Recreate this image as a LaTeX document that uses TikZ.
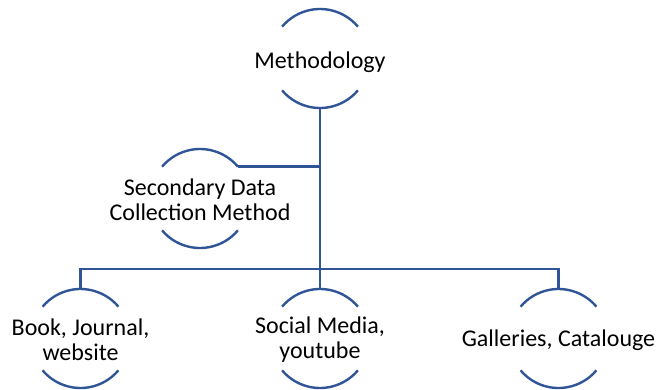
\documentclass[tikz,border=0pt]{standalone}
\usepackage{fontspec}
\setmainfont{Carlito}
\definecolor{lineblue}{RGB}{47,85,151}
\begin{document}
\begin{tikzpicture}[x=1pt,y=-1pt,
  ring/.style={circle,minimum size=99pt,inner sep=0pt,outer sep=0pt},
  lbl/.style={align=center,inner sep=0pt,font=\fontsize{24}{25}\selectfont,text=black},
  arcline/.style={draw=lineblue,line width=2.4pt},
  conn/.style={draw=lineblue,line width=2.6pt}]
\useasboundingbox (0,0) rectangle (664,389);
% circles
\node[ring] (m) at (320,58.5) {};
\node[ring] (s) at (200,198.5) {};
\node[ring] (b1) at (80.5,338.5) {};
\node[ring] (b2) at (320,338.5) {};
\node[ring] (b3) at (558.5,338.5) {};
% arcs
\foreach \n in {m,s,b1,b2,b3}{
  \draw[arcline] (\n.40) arc[start angle=40,end angle=140,radius=49.5pt];
  \draw[arcline] (\n.220) arc[start angle=220,end angle=320,radius=49.5pt];
}
% labels
\node[lbl] (tm) at ([yshift=-4pt]m.center) {Methodology};
\node[lbl] (ts) at ([yshift=-1pt]s.center) {Secondary Data\\Collection Method};
\node[lbl] (t1) at ([yshift=-1pt]b1.center) {Book, Journal,\\website};
\node[lbl] (t2) at ([yshift=-1pt]b2.center) {Social Media,\\youtube};
\node[lbl] (t3) at ([yshift=-1.5pt]b3.center) {Galleries, Catalouge};
% connectors
\coordinate (bar) at (320,269);
\draw[conn] (m.south) -- (bar);
\draw[conn] (s.40) -- (s.40 -| m.south);
\draw[conn] (bar) -| (b1.north);
\draw[conn] (bar) -| (b3.north);
\draw[conn] (bar) -- (b2.north);
\end{tikzpicture}
\end{document}
